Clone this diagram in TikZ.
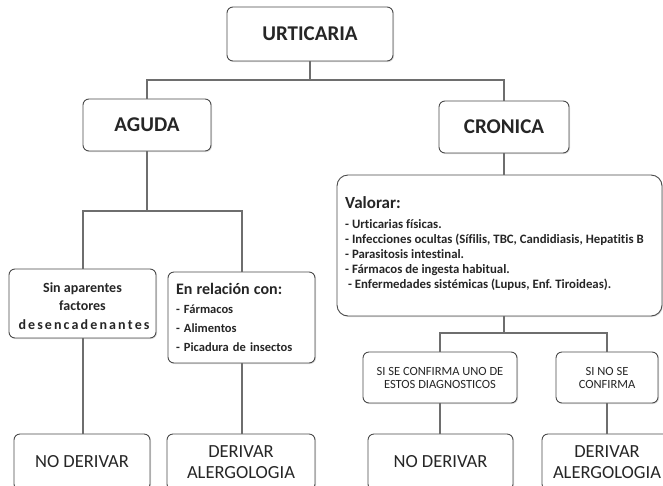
\documentclass[tikz,border=0pt]{standalone}
\usepackage{fontspec}
\setmainfont{Carlito}[Ligatures=CommonOff]
\frenchspacing
\usetikzlibrary{shadows}
\definecolor{boxline}{HTML}{4A4A4A}
\definecolor{conn}{HTML}{6E6E6E}
\tikzset{
  box/.style={draw=boxline, line width=0.9pt, rounded corners=6pt, fill=white,
    drop shadow={opacity=0.25, shadow xshift=1pt, shadow yshift=-1pt},
    inner sep=0pt, align=center, text=black!85},
  plaintext/.style={inner sep=0pt, text=black!85},
  link/.style={draw=conn, line width=2pt},
  bigb/.style={font=\bfseries\fontsize{21}{24}\selectfont},
  endb/.style={font=\fontsize{18.5}{21}\selectfont},
  capb/.style={font=\fontsize{12.5}{13}\selectfont},
}
\begin{document}
\begin{tikzpicture}[x=1pt,y=-1pt]
\useasboundingbox (0,0) rectangle (663,485);
\clip (0,0) rectangle (663,485);
\fill[white] (0,0) rectangle (663,485);
% boxes
\node[box,bigb,minimum width=166pt,minimum height=54pt] (urt) at (310,34) {URTICARIA};
\node[box,bigb,minimum width=128pt,minimum height=52pt] (aguda) at (147,125) {AGUDA};
\node[box,bigb,minimum width=130pt,minimum height=52pt] (cronica) at (504,127) {CRONICA};
\node[box,minimum width=147pt,minimum height=69pt] (sin) at (82.5,303.5) {};
\node[plaintext,align=center,font=\bfseries\fontsize{14}{18.5}\selectfont] (sintxt) at (82.5,306)
  {Sin aparentes\\factores\\\makebox[128pt][s]{d e s e n c a d e n a n t e s}};
\node[box,minimum width=147pt,minimum height=91pt,align=left,text width=131pt,font=\bfseries\fontsize{12.5}{19}\selectfont] (enrel) at (241.5,317.5)
  {{\fontsize{16}{19}\selectfont En relación con:}\\- Fármacos\\- Alimentos\\- Picadura de insectos};
\node[box,rounded corners=11pt,minimum width=325pt,minimum height=141pt] (valorar) at (499.5,245.5) {};
\node[plaintext,anchor=north west,align=left,font=\bfseries\fontsize{12.8}{15}\selectfont] (valtxt) at (345,196)
  {{\fontsize{17}{19}\selectfont Valorar:}\\[5pt]- Urticarias físicas.\\- Infecciones ocultas (Sífilis, TBC, Candidiasis, Hepatitis B\\- Parasitosis intestinal.\\- Fármacos de ingesta habitual.\\\ - Enfermedades sistémicas (Lupus, Enf. Tiroideas).};
\node[box,capb,minimum width=154pt,minimum height=51pt] (sise) at (440,377.5) {SI SE CONFIRMA UNO DE\\ESTOS DIAGNOSTICOS};
\node[box,capb,minimum width=102pt,minimum height=51pt] (sino) at (607,377.5) {SI NO SE\\CONFIRMA};
\node[box,endb,minimum width=136pt,minimum height=56pt] (nod1) at (82,462) {NO DERIVAR};
\node[box,endb,minimum width=148pt,minimum height=56pt] (der1) at (241,462) {DERIVAR\\ALERGOLOGIA};
\node[box,endb,minimum width=145pt,minimum height=56pt] (nod2) at (440.5,462) {NO DERIVAR};
\node[box,endb,minimum width=130pt,minimum height=56pt] (der2) at (607,462) {DERIVAR\\ALERGOLOGIA};
% connectors
\coordinate (j1) at (310,80);
\draw[link] (urt.south) -- (j1) -| (aguda.north);
\draw[link] (j1) -| (cronica.north);
\coordinate (j2) at (147,211);
\draw[link] (aguda.south) -- (j2) -| (sin.north);
\draw[link] (j2) -| (enrel.north);
\draw[link] (cronica.south) -- (cronica.south |- valorar.north);
\coordinate (j3) at (cronica.south |- 0,333);
\draw[link] (cronica.south |- valorar.south) -- (j3) -| (sise.north);
\draw[link] (j3) -| (sino.north);
\draw[link] (sin.south) -- (sin.south |- nod1.north);
\draw[link] (enrel.south) -- (enrel.south |- der1.north);
\draw[link] (sise.south) -- (sise.south |- nod2.north);
\draw[link] (sino.south) -- (sino.south |- der2.north);
\end{tikzpicture}
\end{document}
